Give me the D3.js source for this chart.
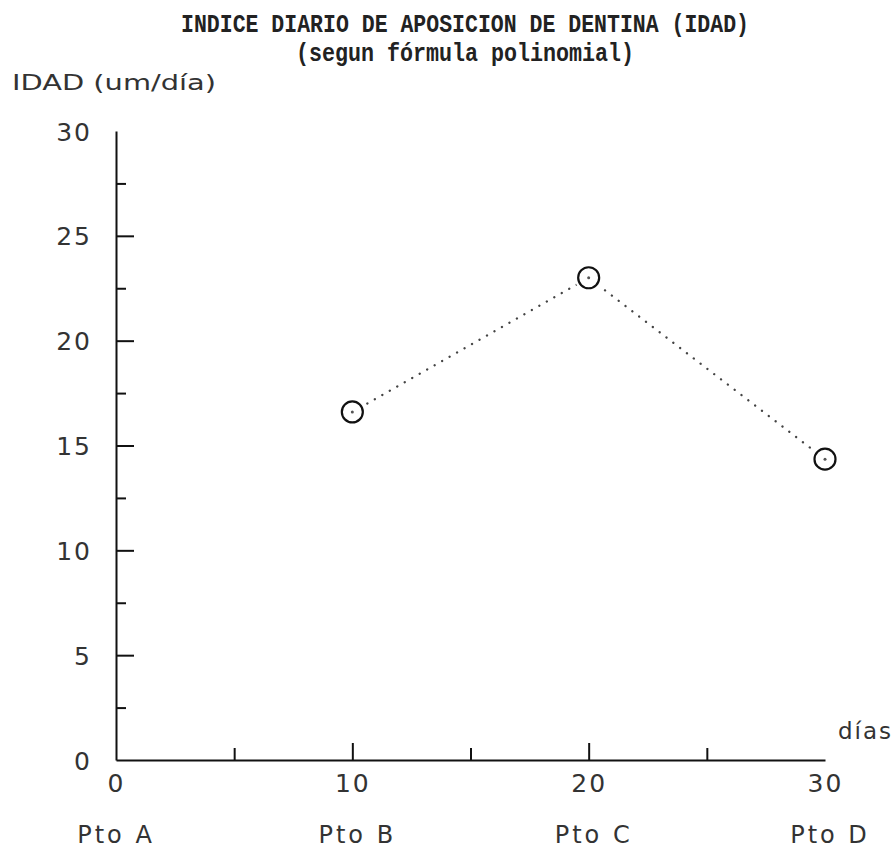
<!DOCTYPE html>
<html>
<head>
<meta charset="utf-8">
<title>IDAD</title>
<style>
  body { margin: 0; background: #fff; }
  svg text { fill: #333; }
</style>
</head>
<body>
<div class="chart"></div>
<script src="https://cdn.jsdelivr.net/npm/d3@7/dist/d3.min.js"></script>
<script>
// data
var dias     = [10, 20, 30];
var idad     = [16.6, 23.0, 14.35];
var ptos     = ["Pto A", "Pto B", "Pto C", "Pto D"];
var ptoDias  = [0, 10, 20, 30];
var yMajor   = [0, 5, 10, 15, 20, 25, 30];
var yMinor   = [2.5, 7.5, 12.5, 17.5, 22.5, 27.5];
var xMajor   = [0, 10, 20, 30];
var xMinor   = [5, 15, 25];

var width  = 896;
var height = 850;

var svg = d3.select(".chart").append("svg")
  .attr("width", width)
  .attr("height", height);

svg.append("rect").attr("width", width).attr("height", height).attr("fill", "#fff");

var x = d3.scaleLinear().domain([0, 30]).range([116, 825]);
var y = d3.scaleLinear().domain([0, 30]).range([760, 131]);

var tickFont = "'DejaVu Sans', sans-serif";

// title
svg.append("text")
  .attr("x", 181).attr("y", 32)
  .attr("textLength", 568).attr("lengthAdjust", "spacingAndGlyphs")
  .style("font-family", "'Liberation Mono', monospace")
  .style("font-weight", "bold")
  .style("font-size", "25px")
  .style("fill", "#222")
  .text("INDICE DIARIO DE APOSICION DE DENTINA (IDAD)");

svg.append("text")
  .attr("x", 296).attr("y", 61)
  .attr("textLength", 338).attr("lengthAdjust", "spacingAndGlyphs")
  .style("font-family", "'Liberation Mono', monospace")
  .style("font-weight", "bold")
  .style("font-size", "25px")
  .style("fill", "#222")
  .text("(segun fórmula polinomial)");

// axis titles
svg.append("text")
  .attr("x", 12).attr("y", 90)
  .attr("textLength", 204).attr("lengthAdjust", "spacingAndGlyphs")
  .style("font-family", tickFont)
  .style("font-size", "21px")
  .text("IDAD (um/día)");

svg.append("text")
  .attr("x", 838).attr("y", 739)
  .style("font-family", tickFont)
  .style("font-size", "23px")
  .style("letter-spacing", "2px")
  .text("días");

// y axis
var yAxis = svg.append("g")
  .attr("transform", "translate(" + x(0) + ",0)")
  .call(d3.axisLeft(y).tickValues(yMajor).tickSize(-18).tickPadding(24).tickSizeOuter(0));
yAxis.select(".domain").attr("stroke", "#111").attr("stroke-width", 2);
yAxis.selectAll(".tick line").attr("stroke", "#111").attr("stroke-width", 2)
  .filter(function(d) { return d === 30 || d === 0; }).remove();
yAxis.selectAll(".tick text")
  .attr("dy", "0.36em")
  .style("font-family", tickFont)
  .style("font-size", "25px")
  .style("letter-spacing", "2px")
  .style("fill", "#333");

var yAxisMinor = svg.append("g")
  .attr("transform", "translate(" + x(0) + ",0)")
  .call(d3.axisLeft(y).tickValues(yMinor).tickSize(-10).tickFormat(""));
yAxisMinor.select(".domain").remove();
yAxisMinor.selectAll(".tick line").attr("stroke", "#111").attr("stroke-width", 2);

// x axis
var xAxis = svg.append("g")
  .attr("transform", "translate(0," + y(0) + ")")
  .call(d3.axisBottom(x).tickValues(xMajor).tickSize(-17).tickPadding(14).tickSizeOuter(0));
xAxis.select(".domain").attr("stroke", "#111").attr("stroke-width", 2);
xAxis.selectAll(".tick line").attr("stroke", "#111").attr("stroke-width", 2)
  .filter(function(d) { return d === 0 || d === 30; }).remove();
xAxis.selectAll(".tick text")
  .attr("dy", "0.71em")
  .style("font-family", tickFont)
  .style("font-size", "25px")
  .style("letter-spacing", "2px")
  .style("fill", "#333");

var xAxisMinor = svg.append("g")
  .attr("transform", "translate(0," + y(0) + ")")
  .call(d3.axisBottom(x).tickValues(xMinor).tickSize(-12).tickFormat(""));
xAxisMinor.select(".domain").remove();
xAxisMinor.selectAll(".tick line").attr("stroke", "#111").attr("stroke-width", 2);

// point names under the x axis
svg.append("g").selectAll("text")
  .data(ptos)
  .join("text")
  .attr("x", function(d, i) { return x(ptoDias[i]) + (i === 0 ? 0 : 5); })
  .attr("y", 843)
  .attr("text-anchor", "middle")
  .style("font-family", tickFont)
  .style("font-size", "24px")
  .style("letter-spacing", "3px")
  .text(function(d) { return d; });

// dotted line
var pts = dias.map(function(d, i) { return [d, idad[i]]; });
svg.append("path")
  .datum(pts)
  .attr("fill", "none")
  .attr("stroke", "#444")
  .attr("stroke-width", 2.3)
  .attr("stroke-linecap", "round")
  .attr("stroke-dasharray", "0.1,8.5")
  .attr("d", d3.line().x(function(d) { return x(d[0]); }).y(function(d) { return y(d[1]); }));

// markers
var mk = svg.append("g").selectAll("g")
  .data(pts)
  .join("g")
  .attr("transform", function(d) { return "translate(" + x(d[0]) + "," + y(d[1]) + ")"; });
mk.append("circle")
  .attr("r", 14)
  .attr("fill", "#fff");
mk.append("circle")
  .attr("r", 10.5)
  .attr("fill", "#fff")
  .attr("stroke", "#111")
  .attr("stroke-width", 2.2);
mk.append("circle")
  .attr("r", 1.5)
  .attr("fill", "#555");
</script>
</body>
</html>
